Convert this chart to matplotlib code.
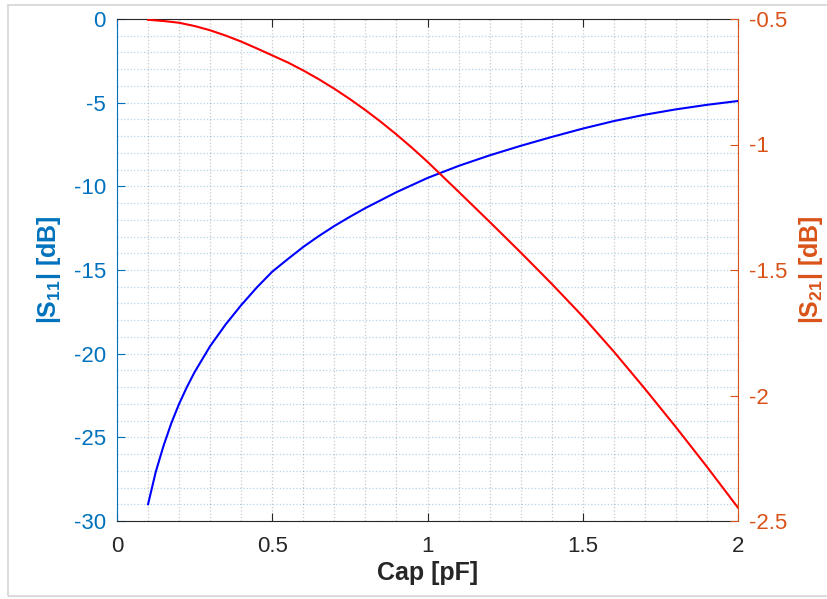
import matplotlib
matplotlib.use('Agg')
import matplotlib.pyplot as plt
from matplotlib.ticker import MultipleLocator
from matplotlib.patches import Rectangle

# |S11| (left axis)
cap_s11 = [0.10, 0.125, 0.15, 0.175, 0.20, 0.225, 0.25, 0.30, 0.35, 0.40, 0.45,
           0.50, 0.55, 0.60, 0.65, 0.70, 0.75, 0.80, 0.90, 1.00, 1.10, 1.20,
           1.30, 1.40, 1.50, 1.60, 1.70, 1.80, 1.90, 2.00]
s11_db = [-29.0, -27.05, -25.5, -24.15, -23.0, -22.0, -21.1, -19.55, -18.25,
          -17.1, -16.05, -15.1, -14.35, -13.62, -12.97, -12.37, -11.82,
          -11.3, -10.35, -9.5, -8.78, -8.15, -7.58, -7.05, -6.55, -6.1,
          -5.72, -5.4, -5.13, -4.9]

# |S21| (right axis)
cap_s21 = [0.1, 0.15, 0.2, 0.25, 0.3, 0.35, 0.4, 0.45, 0.5, 0.55, 0.6, 0.65,
           0.7, 0.75, 0.8, 0.85, 0.9, 0.95, 1.0, 1.1, 1.2, 1.3, 1.4, 1.5,
           1.6, 1.7, 1.8, 1.9, 2.0]
s21_db = [-0.503, -0.508, -0.515, -0.528, -0.545, -0.566, -0.59, -0.617,
          -0.645, -0.673, -0.705, -0.740, -0.778, -0.819, -0.863, -0.910,
          -0.960, -1.013, -1.069, -1.188, -1.308, -1.43, -1.555, -1.685,
          -1.825, -1.973, -2.126, -2.284, -2.447]

x_ticks = [0, 0.5, 1, 1.5, 2]
x_labels = ['0', '0.5', '1', '1.5', '2']
left_ticks = [-30, -25, -20, -15, -10, -5, 0]
left_labels = ['-30', '-25', '-20', '-15', '-10', '-5', '0']
right_ticks = [-2.5, -2, -1.5, -1, -0.5]
right_labels = ['-2.5', '-2', '-1.5', '-1', '-0.5']

left_color = '#0072BD'
right_color = '#D95319'
dark = '#262626'

plt.rcParams['font.family'] = ['Liberation Sans', 'DejaVu Sans']
plt.rcParams['mathtext.fontset'] = 'custom'
plt.rcParams['mathtext.bf'] = 'Liberation Sans:bold'
plt.rcParams['mathtext.rm'] = 'Liberation Sans:bold'
plt.rcParams['mathtext.default'] = 'bf'

fig = plt.figure(figsize=(8.27, 5.99), dpi=100)
ax = fig.add_axes([117 / 827, 1 - 521 / 599, 621 / 827, 502 / 599])
ax2 = ax.twinx()

# screenshot frame
fig.patches.append(Rectangle((8 / 827, 3 / 599), 1.0, 591 / 599, transform=fig.transFigure,
                             fill=False, edgecolor='#d4d4d4', linewidth=1.2))

ax.plot(cap_s11, s11_db, color='blue', linewidth=1.5)
ax2.plot(cap_s21, s21_db, color='red', linewidth=1.5)

ax.set_xlim(0, 2)
ax.set_ylim(-30, 0)
ax2.set_ylim(-2.5, -0.5)

ax.set_xticks(x_ticks)
ax.set_xticklabels(x_labels)
ax.set_yticks(left_ticks)
ax.set_yticklabels(left_labels)
ax2.set_yticks(right_ticks)
ax2.set_yticklabels(right_labels)
ax.xaxis.set_minor_locator(MultipleLocator(0.1))
ax.yaxis.set_minor_locator(MultipleLocator(1))

# dotted grid, MATLAB style
ax.xaxis.grid(True, which='both', linestyle=':', color=dark, alpha=0.25, linewidth=0.9)
ax.yaxis.grid(True, which='both', linestyle=':', color=left_color, alpha=0.3, linewidth=0.9)
ax.set_axisbelow(True)

# spines
ax.spines['left'].set_color(left_color)
ax.spines['right'].set_visible(False)
ax.spines['top'].set_color(dark)
ax.spines['bottom'].set_color(dark)
ax2.spines['left'].set_visible(False)
ax2.spines['top'].set_visible(False)
ax2.spines['bottom'].set_visible(False)
ax2.spines['right'].set_color(right_color)

ax.tick_params(axis='x', which='major', direction='in', length=6, top=True,
               colors=dark, labelsize=16, pad=11)
ax.tick_params(axis='x', which='minor', length=0, top=False)
ax.tick_params(axis='y', which='major', direction='in', length=6,
               colors=left_color, labelsize=16, pad=8)
ax.tick_params(axis='y', which='minor', length=0)
ax2.tick_params(axis='y', which='major', direction='in', length=6,
                colors=right_color, labelsize=16, pad=8)

ax.set_xlabel('Cap [pF]', fontsize=18, fontweight='bold', color=dark, labelpad=3)
ax.set_ylabel('|S$_{11}$| [dB]', fontsize=18, fontweight='bold', color=left_color, labelpad=8)
ax2.set_ylabel('|S$_{21}$| [dB]', fontsize=18, fontweight='bold', color=right_color, labelpad=7)

fig.savefig('out.png', dpi=100)
